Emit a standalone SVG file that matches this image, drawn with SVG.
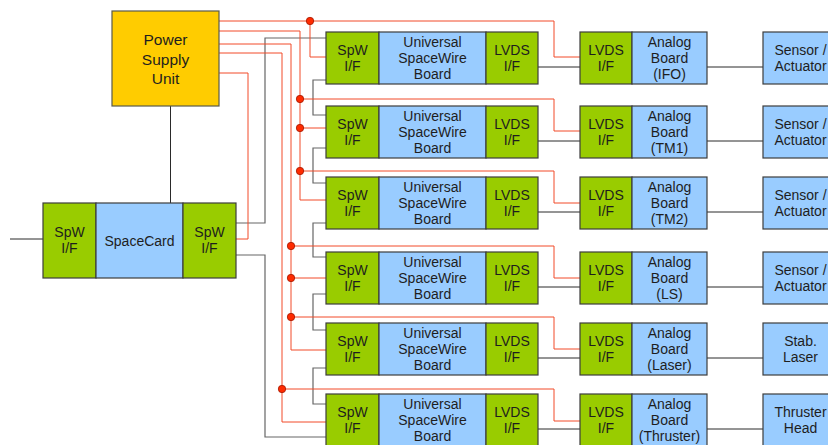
<svg xmlns="http://www.w3.org/2000/svg" width="828" height="445" viewBox="0 0 828 445">
<style>
rect{stroke:#3c3c3c;stroke-width:1.2}
.g{fill:#99CC00}
.b{fill:#99CCFF}
.y{fill:#FFCC00;stroke:#5a5a4a}
text{font-family:"Liberation Sans",Arial,sans-serif;font-size:14px;fill:#1e1e1e;text-anchor:middle}
.big{font-size:15.5px}
.red{fill:none;stroke:#F24A28;stroke-width:1}
.gry{fill:none;stroke:#666666;stroke-width:1.2}
.blk{fill:none;stroke:#2a2a2a;stroke-width:1}
.dot{fill:#FF2A00;stroke:#A01800;stroke-width:0.8}
</style>
<rect width="828" height="445" fill="#ffffff" style="stroke:none"/>

<g id="connectors">
  <path class="blk" d="M170.5,106V203M10,239H43"/>
  <path class="blk" d="M538,67H580M707,67H763M538,141H580M707,141H763M538,212H580M707,212H763M538,287H580M707,287H763M538,358H580M707,358H763M538,429H580M707,429H763"/>
  <path class="gry" d="M236,223H265V38H326M236,255H265V437H326M326,80H313V115H326M326,148H313V183H326M326,223H313V257H326M326,294H313V330H326M326,368H313V404H326"/>
  <path class="red" d="M219,21H554V57H580M310,21V57H326"/>
  <path class="red" d="M219,31H300V200H326M300,99H554V131H580M300,128H326M300,171H554V203H580"/>
  <path class="red" d="M219,44H291V350H326M291,246H554V278H580M291,278H326M291,317H554V349H580"/>
  <path class="red" d="M219,53H282V422H326M282,389H554V421H580"/>
  <path class="red" d="M219,73H248V239H236"/>
  <circle class="dot" cx="310" cy="21" r="3.7"/>
  <circle class="dot" cx="300" cy="99" r="3.7"/>
  <circle class="dot" cx="300" cy="128" r="3.7"/>
  <circle class="dot" cx="300" cy="171" r="3.7"/>
  <circle class="dot" cx="291" cy="246" r="3.7"/>
  <circle class="dot" cx="291" cy="278" r="3.7"/>
  <circle class="dot" cx="291" cy="317" r="3.7"/>
  <circle class="dot" cx="282" cy="389" r="3.7"/>
</g>

<g id="psu">
  <rect class="y" x="112" y="11" width="107" height="95"/>
  <text class="big" x="165.5" y="45">Power</text>
  <text class="big" x="165.5" y="64.5">Supply</text>
  <text class="big" x="165.5" y="84">Unit</text>
</g>

<g id="spacecard">
  <rect class="g" x="43" y="203" width="53" height="75"/>
  <rect class="b" x="96" y="203" width="87" height="75"/>
  <rect class="g" x="183" y="203" width="53" height="75"/>
  <text x="69.5" y="237">SpW</text><text x="69.5" y="253">I/F</text>
  <text x="139.5" y="245.5">SpaceCard</text>
  <text x="209.5" y="237">SpW</text><text x="209.5" y="253">I/F</text>
</g>

<g id="usb1" transform="translate(0,32)">
  <rect class="g" x="326" y="0" width="53" height="52"/>
  <rect class="b" x="379" y="0" width="107" height="52"/>
  <rect class="g" x="486" y="0" width="52" height="52"/>
  <text x="352.5" y="23">SpW</text><text x="352.5" y="39">I/F</text>
  <text x="432.5" y="15">Universal</text><text x="432.5" y="31">SpaceWire</text><text x="432.5" y="47">Board</text>
  <text x="512" y="23">LVDS</text><text x="512" y="39">I/F</text>
</g>
<g id="analog1" transform="translate(0,32)">
  <rect class="g" x="580" y="0" width="52" height="52"/>
  <rect class="b" x="632" y="0" width="75" height="52"/>
  <text x="606" y="23">LVDS</text><text x="606" y="39">I/F</text>
  <text x="669.5" y="15">Analog</text><text x="669.5" y="31">Board</text><text x="669.5" y="47">(IFO)</text>
</g>
<g id="sensor1" transform="translate(0,32)">
  <rect class="b" x="763" y="0" width="75" height="52"/>
  <text x="800.5" y="23">Sensor /</text><text x="800.5" y="39">Actuator</text>
</g>

<g id="usb2" transform="translate(0,106)">
  <rect class="g" x="326" y="0" width="53" height="52"/>
  <rect class="b" x="379" y="0" width="107" height="52"/>
  <rect class="g" x="486" y="0" width="52" height="52"/>
  <text x="352.5" y="23">SpW</text><text x="352.5" y="39">I/F</text>
  <text x="432.5" y="15">Universal</text><text x="432.5" y="31">SpaceWire</text><text x="432.5" y="47">Board</text>
  <text x="512" y="23">LVDS</text><text x="512" y="39">I/F</text>
</g>
<g id="analog2" transform="translate(0,106)">
  <rect class="g" x="580" y="0" width="52" height="52"/>
  <rect class="b" x="632" y="0" width="75" height="52"/>
  <text x="606" y="23">LVDS</text><text x="606" y="39">I/F</text>
  <text x="669.5" y="15">Analog</text><text x="669.5" y="31">Board</text><text x="669.5" y="47">(TM1)</text>
</g>
<g id="sensor2" transform="translate(0,106)">
  <rect class="b" x="763" y="0" width="75" height="52"/>
  <text x="800.5" y="23">Sensor /</text><text x="800.5" y="39">Actuator</text>
</g>

<g id="usb3" transform="translate(0,177)">
  <rect class="g" x="326" y="0" width="53" height="52"/>
  <rect class="b" x="379" y="0" width="107" height="52"/>
  <rect class="g" x="486" y="0" width="52" height="52"/>
  <text x="352.5" y="23">SpW</text><text x="352.5" y="39">I/F</text>
  <text x="432.5" y="15">Universal</text><text x="432.5" y="31">SpaceWire</text><text x="432.5" y="47">Board</text>
  <text x="512" y="23">LVDS</text><text x="512" y="39">I/F</text>
</g>
<g id="analog3" transform="translate(0,177)">
  <rect class="g" x="580" y="0" width="52" height="52"/>
  <rect class="b" x="632" y="0" width="75" height="52"/>
  <text x="606" y="23">LVDS</text><text x="606" y="39">I/F</text>
  <text x="669.5" y="15">Analog</text><text x="669.5" y="31">Board</text><text x="669.5" y="47">(TM2)</text>
</g>
<g id="sensor3" transform="translate(0,177)">
  <rect class="b" x="763" y="0" width="75" height="52"/>
  <text x="800.5" y="23">Sensor /</text><text x="800.5" y="39">Actuator</text>
</g>

<g id="usb4" transform="translate(0,252)">
  <rect class="g" x="326" y="0" width="53" height="52"/>
  <rect class="b" x="379" y="0" width="107" height="52"/>
  <rect class="g" x="486" y="0" width="52" height="52"/>
  <text x="352.5" y="23">SpW</text><text x="352.5" y="39">I/F</text>
  <text x="432.5" y="15">Universal</text><text x="432.5" y="31">SpaceWire</text><text x="432.5" y="47">Board</text>
  <text x="512" y="23">LVDS</text><text x="512" y="39">I/F</text>
</g>
<g id="analog4" transform="translate(0,252)">
  <rect class="g" x="580" y="0" width="52" height="52"/>
  <rect class="b" x="632" y="0" width="75" height="52"/>
  <text x="606" y="23">LVDS</text><text x="606" y="39">I/F</text>
  <text x="669.5" y="15">Analog</text><text x="669.5" y="31">Board</text><text x="669.5" y="47">(LS)</text>
</g>
<g id="sensor4" transform="translate(0,252)">
  <rect class="b" x="763" y="0" width="75" height="52"/>
  <text x="800.5" y="23">Sensor /</text><text x="800.5" y="39">Actuator</text>
</g>

<g id="usb5" transform="translate(0,323)">
  <rect class="g" x="326" y="0" width="53" height="52"/>
  <rect class="b" x="379" y="0" width="107" height="52"/>
  <rect class="g" x="486" y="0" width="52" height="52"/>
  <text x="352.5" y="23">SpW</text><text x="352.5" y="39">I/F</text>
  <text x="432.5" y="15">Universal</text><text x="432.5" y="31">SpaceWire</text><text x="432.5" y="47">Board</text>
  <text x="512" y="23">LVDS</text><text x="512" y="39">I/F</text>
</g>
<g id="analog5" transform="translate(0,323)">
  <rect class="g" x="580" y="0" width="52" height="52"/>
  <rect class="b" x="632" y="0" width="75" height="52"/>
  <text x="606" y="23">LVDS</text><text x="606" y="39">I/F</text>
  <text x="669.5" y="15">Analog</text><text x="669.5" y="31">Board</text><text x="669.5" y="47">(Laser)</text>
</g>
<g id="laser" transform="translate(0,323)">
  <rect class="b" x="763" y="0" width="75" height="52"/>
  <text x="800.5" y="23">Stab.</text><text x="800.5" y="39">Laser</text>
</g>

<g id="usb6" transform="translate(0,394)">
  <rect class="g" x="326" y="0" width="53" height="52"/>
  <rect class="b" x="379" y="0" width="107" height="52"/>
  <rect class="g" x="486" y="0" width="52" height="52"/>
  <text x="352.5" y="23">SpW</text><text x="352.5" y="39">I/F</text>
  <text x="432.5" y="15">Universal</text><text x="432.5" y="31">SpaceWire</text><text x="432.5" y="47">Board</text>
  <text x="512" y="23">LVDS</text><text x="512" y="39">I/F</text>
</g>
<g id="analog6" transform="translate(0,394)">
  <rect class="g" x="580" y="0" width="52" height="52"/>
  <rect class="b" x="632" y="0" width="75" height="52"/>
  <text x="606" y="23">LVDS</text><text x="606" y="39">I/F</text>
  <text x="669.5" y="15">Analog</text><text x="669.5" y="31">Board</text><text x="669.5" y="47">(Thruster)</text>
</g>
<g id="thruster" transform="translate(0,394)">
  <rect class="b" x="763" y="0" width="75" height="52"/>
  <text x="800.5" y="23">Thruster</text><text x="800.5" y="39">Head</text>
</g>
</svg>
